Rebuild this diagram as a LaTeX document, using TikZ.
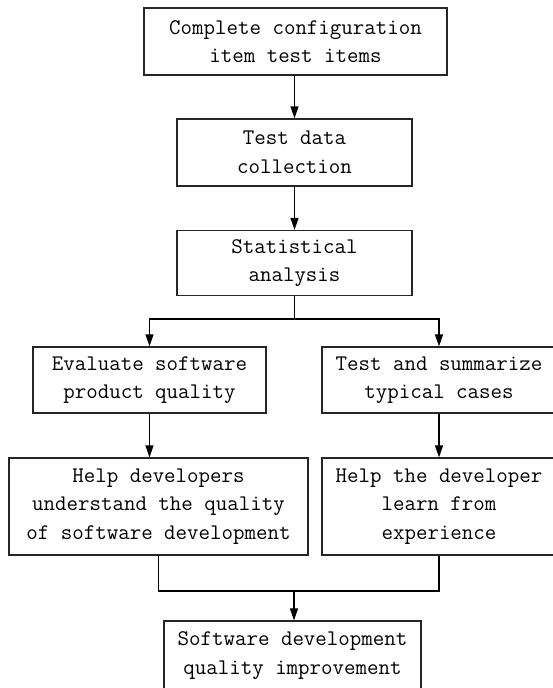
\documentclass[tikz,border=0pt]{standalone}
\usetikzlibrary{arrows.meta}
\tikzset{
  box/.style={draw=black!85, line width=1.3pt, inner sep=0pt, align=center,
    font=\ttfamily\fontsize{22.3}{28.5}\selectfont},
  link/.style={draw=black, line width=1.3pt},
  arr/.style={link, -{Triangle[length=12pt,width=8pt]}}
}
\begin{document}
\begin{tikzpicture}[x=1pt,y=-1pt]
\useasboundingbox (0,0) rectangle (552,688);
\node[box, minimum width=303pt, minimum height=67pt] (b1) at (295.5,41.5) {Complete configuration\\item test items};
\node[box, minimum width=235pt, minimum height=67pt] (b2) at (294.5,152.5) {Test data\\collection};
\node[box, minimum width=235pt, minimum height=65pt] (b3) at (294.5,263) {Statistical\\analysis};
\node[box, minimum width=233pt, minimum height=66pt] (b4) at (149.5,380) {Evaluate software\\product quality};
\node[box, minimum width=234pt, minimum height=66pt] (b5) at (439,380) {Test and summarize\\typical cases};
\node[box, minimum width=299pt, minimum height=97pt] (b6) at (158.5,506.5) {Help developers\\understand the quality\\of software development};
\node[box, minimum width=234pt, minimum height=97pt] (b7) at (439,506.5) {Help the developer\\learn from\\experience};
\node[box, minimum width=257pt, minimum height=69pt] (b8) at (292.5,655.5) {Software development\\quality improvement};
\coordinate (split) at (294.5,319);
\coordinate (join) at (294,591);
\draw[arr] (b1.south -| b2.north) -- (b2.north);
\draw[arr] (b2) -- (b3);
\draw[link] (b3.south) -- (split);
\draw[arr] (split) -| (b4.north);
\draw[arr] (split) -| (b5.north);
\draw[arr] (b4.south) -- (b4.south |- b6.north);
\draw[arr] (b5) -- (b7);
\draw[link] (b6.south) |- (join) -| (b7.south);
\draw[arr] (join) -- (join |- b8.north);
\end{tikzpicture}
\end{document}
